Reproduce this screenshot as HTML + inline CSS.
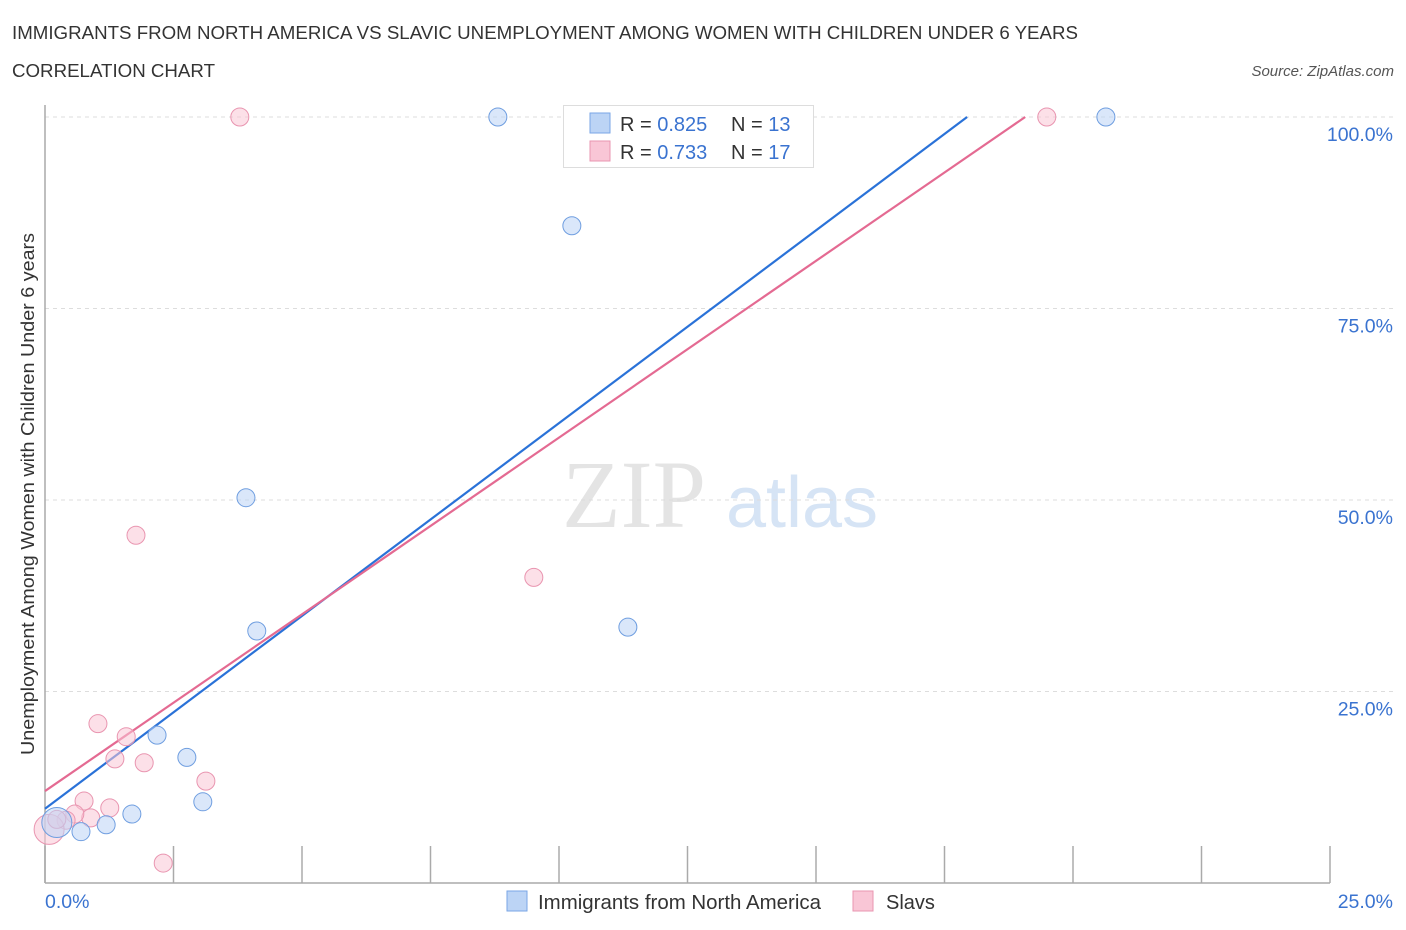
<!DOCTYPE html>
<html><head><meta charset="utf-8"><style>
body{margin:0;background:#fff;font-family:"Liberation Sans",sans-serif;}
svg{display:block}
</style></head><body>
<svg id="chart" width="1406" height="930" xmlns="http://www.w3.org/2000/svg">
<text x="12" y="39" font-size="18" fill="#333" textLength="1066" lengthAdjust="spacingAndGlyphs">IMMIGRANTS FROM NORTH AMERICA VS SLAVIC UNEMPLOYMENT AMONG WOMEN WITH CHILDREN UNDER 6 YEARS</text>
<text x="12" y="77" font-size="18" fill="#333" textLength="203" lengthAdjust="spacingAndGlyphs">CORRELATION CHART</text>
<text x="1394" y="76" font-size="15" fill="#555" font-style="italic" text-anchor="end">Source: ZipAtlas.com</text>
<text x="634" y="527" font-size="96" fill="#e4e4e4" text-anchor="middle" font-family="Liberation Serif,serif">ZIP</text>
<text x="802" y="527" font-size="72" fill="#d6e4f5" text-anchor="middle">atlas</text>
<g id="grid"></g><g id="axes"></g><g id="lines"></g><g id="pts"></g>
<text x="34" y="494" font-size="18" fill="#333" text-anchor="middle" textLength="522" lengthAdjust="spacingAndGlyphs" transform="rotate(-90 34 494)">Unemployment Among Women with Children Under 6 years</text>
<g>
<rect x="563.500" y="105.500" width="250" height="62" fill="#fff" stroke="#ddd"/>
<rect x="590" y="113" width="20" height="20" fill="#bcd4f5" stroke="#7aa6e6"/>
<text x="620" y="131" font-size="20" fill="#333">R = <tspan fill="#3a73d0">0.825</tspan></text>
<text x="731" y="131" font-size="20" fill="#333">N = <tspan fill="#3a73d0">13</tspan></text>
<rect x="590" y="141" width="20" height="20" fill="#f9c6d6" stroke="#e995b0"/>
<text x="620" y="159" font-size="20" fill="#333">R = <tspan fill="#3a73d0">0.733</tspan></text>
<text x="731" y="159" font-size="20" fill="#333">N = <tspan fill="#3a73d0">17</tspan></text>
</g>
<g>
<rect x="507" y="891" width="20" height="20" fill="#bcd4f5" stroke="#7aa6e6"/>
<text x="538" y="909" font-size="20" fill="#333" textLength="283" lengthAdjust="spacingAndGlyphs">Immigrants from North America</text>
<rect x="853" y="891" width="20" height="20" fill="#f9c6d6" stroke="#e995b0"/>
<text x="886" y="909" font-size="20" fill="#333">Slavs</text>
</g>
</svg>
<script>
const blueX=[8.81,10.25,20.64,3.91,4.12,11.34,2.18,2.76,3.07,1.69,1.19,0.70,0.23];
const blueY=[100,85.8,100,50.3,32.9,33.4,19.3,16.4,10.6,9.0,7.6,6.7,7.9];
const blueR=[9,9,9,9,9,9,9,9,9,9,9,9,15];
const pinkX=[3.79,19.49,1.77,9.51,1.03,1.58,1.36,1.93,3.13,0.76,1.26,0.89,0.58,0.41,2.30,0.08,0.23];
const pinkY=[100,100,45.4,39.9,20.8,19.1,16.2,15.7,13.3,10.7,9.8,8.5,9.0,8.2,2.6,7.0,8.3];
const pinkR=[9,9,9,9,9,9,9,9,9,9,9,9,9,9,9,15,9];
const blueLine=[[0,9.7],[17.94,100]];
const pinkLine=[[0,12.0],[19.07,100]];
const yTicks=[25,50,75,100];
const yTickLabels=["25.0%","50.0%","75.0%","100.0%"];
const xTicks=[0,2.5,5,7.5,10,12.5,15,17.5,20,22.5,25];
const NS="http://www.w3.org/2000/svg";
const sx=v=>45+v*(1330-45)/25;
const sy=v=>883-v*(883-117)/100;
function mk(t,a,p){const e=document.createElementNS(NS,t);for(const k in a)e.setAttribute(k,a[k]);document.getElementById(p).appendChild(e);return e;}
yTicks.forEach((v,i)=>{
 const l=mk('line',{x1:45,x2:1394,y1:sy(v),y2:sy(v),stroke:'#ddd','stroke-dasharray':'4,4'},'grid');
 
 
 const t=mk('text',{x:1393,y:sy(v)+24,'font-size':19.5,fill:'#3a73d0','text-anchor':'end'},'grid');
 t.textContent=yTickLabels[i];
 
 
});
const ax=mk('line',{x1:45,x2:1330,y1:883,y2:883,stroke:'#aaa','stroke-width':1.5},'axes');


const ay=mk('line',{x1:45,x2:45,y1:105,y2:883,stroke:'#aaa','stroke-width':1.5},'axes');


xTicks.forEach(v=>{
 const l=mk('line',{x1:sx(v),x2:sx(v),y1:846,y2:883,stroke:'#aaa','stroke-width':1.5},'axes');
 
 
});
const x0=mk('text',{x:45,y:908,'font-size':19.5,fill:'#3a73d0'},'axes');x0.textContent='0.0%';


const x1=mk('text',{x:1393,y:908,'font-size':19.5,fill:'#3a73d0','text-anchor':'end'},'axes');x1.textContent='25.0%';


function pts(X,Y,R,fill,stroke,name){X.forEach((x,i)=>{
 const c=mk('circle',{cx:sx(x),cy:sy(Y[i]),r:R[i],fill:fill,'fill-opacity':0.55,stroke:stroke,'stroke-width':1},'pts');
 
 
});}
const bl=mk('line',{x1:sx(blueLine[0][0]),y1:sy(blueLine[0][1]),x2:sx(blueLine[1][0]),y2:sy(blueLine[1][1]),stroke:'#2a72d8','stroke-width':2.2},'lines');


const pl=mk('line',{x1:sx(pinkLine[0][0]),y1:sy(pinkLine[0][1]),x2:sx(pinkLine[1][0]),y2:sy(pinkLine[1][1]),stroke:'#e46a92','stroke-width':2.2},'lines');


pts(pinkX,pinkY,pinkR,'#f9c6d6','#e995b0','slavs-point');
pts(blueX,blueY,blueR,'#bcd4f5','#6f9ee0','immigrants-point');
</script>
</body></html>
